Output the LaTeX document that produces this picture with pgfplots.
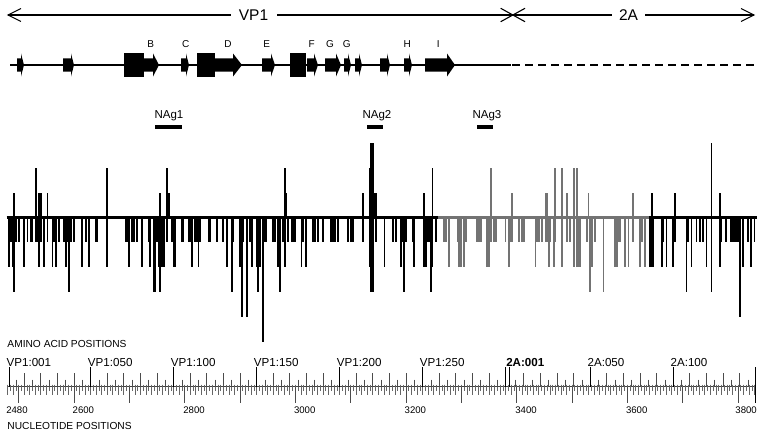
\documentclass[border=0pt]{standalone}
\usepackage{fontspec}
\setmainfont{Liberation Sans}
\usepackage{pgfplots}
\usepackage{pgfplotstable}
\pgfplotsset{compat=1.18}
\definecolor{gbar}{RGB}{115,115,115}
\newcommand\X[1]{\fpeval{((#1)-7.6)/1.6599}}
\newcommand\Y[1]{\fpeval{(217.5-(#1))/24.9}}
\newcommand\N[1]{\fpeval{((#1)-2480)/3}}
\newcommand\fs[1]{\fontsize{#1bp}{#1bp}\selectfont}
% secondary structure: arrow from px a to px b, head length h
\newcommand\SSarrow[3]{\fill (axis cs:\X{#1},\Y{58.5}) -- (axis cs:\X{#2-#3},\Y{58.5}) -- (axis cs:\X{#2-#3},\Y{53.5}) -- (axis cs:\X{#2},\Y{65}) -- (axis cs:\X{#2-#3},\Y{76.5}) -- (axis cs:\X{#2-#3},\Y{71.5}) -- (axis cs:\X{#1},\Y{71.5}) -- cycle;}
\newcommand\SSbox[2]{\fill (axis cs:\X{#1},\Y{53.3}) rectangle (axis cs:\X{#2},\Y{76.7});}
\newcommand\SSlab[2]{\node[anchor=base, inner sep=0] at (axis cs:\X{#2},\Y{47.5}) {\fs{10}#1};}
\newcommand\AAlab[2]{\node[anchor=base west, inner sep=0] at (axis cs:#2-1.7,\Y{366.3}) {\fs{11.6}#1};}
\newcommand\NTlab[1]{\node[anchor=base west, inner sep=0] at (axis cs:\N{#1}-0.9,\Y{413.5}) {\fs{9.6}#1};}

% amino acid index p (VP1:k = k, 2A:k = 301+k); value = count above (+) / below (-) the line
\pgfplotstableread{
p v
4 1
17 2
19 1
20 1
24 1
60 2
92 1
96 2
97 1
167 2
168 1
214 1
218 2
219 3
220 3
221 1
222 1
251 1
256 2
291 2
304 1
324 1
325 1
330 2
334 2
337 1
341 2
343 2
350 1
377 1
388 1
402 1
424 3
429 1
}\upbars

\pgfplotstableread{
p v
1 -2
2 -1
3 -2
4 -3
5 -1
7 -1
10 -2
12 -1
14 -1
15 -1
17 -1
18 -1
19 -2
20 -1
22 -2
24 -1
27 -2
28 -1
29 -2
31 -1
34 -1
35 -2
36 -1
37 -3
38 -1
40 -1
45 -2
47 -1
49 -2
53 -1
54 -1
60 -2
71 -1
72 -1
73 -2
75 -1
76 -1
78 -1
81 -2
85 -1
86 -2
88 -3
89 -3
90 -1
91 -2
92 -3
93 -2
94 -2
96 -1
99 -1
100 -2
101 -2
105 -1
106 -1
109 -1
110 -1
111 -2
113 -1
114 -1
115 -2
116 -1
121 -1
122 -1
126 -1
130 -1
132 -2
135 -3
136 -1
140 -2
141 -4
142 -1
144 -4
146 -1
147 -2
150 -2
151 -3
152 -2
154 -5
155 -1
156 -1
160 -1
161 -1
163 -2
164 -3
166 -1
167 -2
169 -1
171 -1
172 -1
173 -1
177 -2
178 -1
180 -2
184 -1
185 -1
187 -1
190 -1
195 -1
196 -1
197 -1
199 -1
205 -1
207 -1
208 -1
214 -1
218 -2
219 -3
220 -3
222 -1
227 -2
232 -1
234 -1
237 -2
238 -1
239 -3
240 -1
244 -1
245 -2
251 -2
252 -2
253 -1
254 -1
255 -3
256 -2
258 -1
263 -1
264 -1
266 -2
271 -1
272 -2
273 -2
275 -2
276 -1
283 -1
284 -1
285 -1
289 -2
290 -2
291 -1
293 -1
294 -1
300 -1
302 -2
303 -1
304 -1
308 -1
310 -1
311 -1
318 -2
319 -1
320 -1
322 -1
324 -1
325 -1
326 -2
327 -1
329 -2
330 -1
334 -2
337 -1
339 -1
341 -2
343 -2
344 -2
345 -2
349 -1
351 -3
352 -2
354 -1
359 -3
366 -2
367 -2
368 -1
369 -1
372 -2
374 -2
377 -1
381 -2
382 -1
384 -2
387 -2
388 -2
389 -2
394 -2
395 -1
397 -2
401 -2
402 -1
409 -3
410 -1
412 -2
415 -1
417 -1
419 -1
421 -2
424 -3
429 -2
430 -1
433 -1
436 -1
437 -1
438 -1
439 -1
440 -1
441 -4
443 -2
446 -1
448 -2
450 -1
}\dnbars

\begin{document}
\begin{tikzpicture}
\begin{axis}[scale only axis, width=765bp, height=436bp,
  xmin=-4.5786, xmax=456.29, ymin=-8.775, ymax=8.735,
  hide axis, clip=false]

% ---- bars ----
\addplot[ycomb, no marks, line width=1.8bp, black, restrict x to domain=-1:259.5] table[x=p,y=v]{\upbars};
\addplot[ycomb, no marks, line width=1.8bp, black, restrict x to domain=386.5:460] table[x=p,y=v]{\upbars};
\addplot[ycomb, no marks, line width=1.8bp, gbar, restrict x to domain=259.5:386.5] table[x=p,y=v]{\upbars};
\addplot[ycomb, no marks, line width=1.8bp, black, restrict x to domain=-1:259.5] table[x=p,y=v]{\dnbars};
\addplot[ycomb, no marks, line width=1.8bp, black, restrict x to domain=386.5:460] table[x=p,y=v]{\dnbars};
\addplot[ycomb, no marks, line width=1.8bp, gbar, restrict x to domain=259.5:386.5] table[x=p,y=v]{\dnbars};
% baseline
\draw[line width=2.2bp, black] (axis cs:-0.6,0) -- (axis cs:259.5,0);
\draw[line width=2.2bp, gbar] (axis cs:259.5,0) -- (axis cs:386.5,0);
\draw[line width=2.2bp, black] (axis cs:386.5,0) -- (axis cs:451.2,0);

% ---- top protein arrows ----
\draw[line width=1.1bp] (axis cs:\X{8},\Y{15}) -- (axis cs:\X{231},\Y{15});
\draw[line width=1.1bp] (axis cs:\X{277},\Y{15}) -- (axis cs:\X{512.7},\Y{15});
\draw[line width=1.1bp] (axis cs:\X{512.7},\Y{15}) -- (axis cs:\X{612},\Y{15});
\draw[line width=1.1bp] (axis cs:\X{645},\Y{15}) -- (axis cs:\X{754},\Y{15});
\draw[line width=1.1bp] (axis cs:\X{21},\Y{8.5}) -- (axis cs:\X{8},\Y{15}) -- (axis cs:\X{21},\Y{21.5});
\draw[line width=1.1bp] (axis cs:\X{741},\Y{8.5}) -- (axis cs:\X{754},\Y{15}) -- (axis cs:\X{741},\Y{21.5});
\draw[line width=1.1bp] (axis cs:\X{500.7},\Y{8.3}) -- (axis cs:\X{525},\Y{21.7});
\draw[line width=1.1bp] (axis cs:\X{500.7},\Y{21.7}) -- (axis cs:\X{525},\Y{8.3});
\node[anchor=base, inner sep=0] at (axis cs:\X{253.5},\Y{20.5}) {\fs{15.5}VP1};
\node[anchor=base, inner sep=0] at (axis cs:\X{628.5},\Y{20.5}) {\fs{15.5}2A};

% ---- secondary structure ----
\draw[line width=1.4bp] (axis cs:\X{10},\Y{65}) -- (axis cs:\X{510.7},\Y{65});
\draw[line width=1.4bp, dash pattern=on 8bp off 5bp] (axis cs:\X{512},\Y{65}) -- (axis cs:\X{755},\Y{65});
\SSarrow{17}{24}{3}
\SSarrow{63}{74}{3}
\SSbox{124}{144}
\SSarrow{144}{159}{6}
\SSarrow{181}{189}{3}
\SSbox{197}{215}
\SSarrow{215}{242}{9}
\SSarrow{262}{275}{4}
\SSbox{290}{306}
\SSarrow{307}{318}{4}
\SSarrow{325}{341}{5}
\SSarrow{344}{351}{3}
\SSarrow{355}{362}{3}
\SSarrow{380}{390}{3}
\SSarrow{404}{412}{3}
\SSarrow{425}{455}{8}
\SSlab{B}{150.7}
\SSlab{C}{185.7}
\SSlab{D}{228}
\SSlab{E}{266.7}
\SSlab{F}{311.7}
\SSlab{G}{330}
\SSlab{G}{346.7}
\SSlab{H}{407.3}
\SSlab{I}{438.3}

% ---- antigenic sites ----
\node[anchor=base, inner sep=0] at (axis cs:\X{169},\Y{118}) {\fs{11.5}NAg1};
\node[anchor=base, inner sep=0] at (axis cs:\X{377},\Y{118}) {\fs{11.5}NAg2};
\node[anchor=base, inner sep=0] at (axis cs:\X{487},\Y{118}) {\fs{11.5}NAg3};
\draw[line width=3.5bp] (axis cs:\X{155},\Y{127}) -- (axis cs:\X{182},\Y{127});
\draw[line width=3.5bp] (axis cs:\X{367},\Y{127}) -- (axis cs:\X{383},\Y{127});
\draw[line width=3.5bp] (axis cs:\X{477},\Y{127}) -- (axis cs:\X{493},\Y{127});

% ---- ruler ----
\node[anchor=base west, inner sep=0] at (axis cs:\X{7.3},\Y{347.3}) {\fs{10.2}AMINO ACID POSITIONS};
\node[anchor=base west, inner sep=0] at (axis cs:\X{7.3},\Y{429.3}) {\fs{10.2}NUCLEOTIDE POSITIONS};
\draw[line width=0.9bp, black!75] (axis cs:\X{7},\Y{386.5}) -- (axis cs:\X{755.7},\Y{386.5});
\pgfplotsinvokeforeach{2480,2485,...,3830}{\draw[line width=0.6bp, black!60] (axis cs:\N{#1},\Y{384.5}) -- (axis cs:\N{#1},\Y{391});}
\pgfplotsinvokeforeach{2480,2490,...,3830}{\draw[line width=0.6bp, black!60] (axis cs:\N{#1},\Y{384.5}) -- (axis cs:\N{#1},\Y{394.5});}
\pgfplotsinvokeforeach{2500,2600,...,3800}{\draw[line width=0.8bp, black!70] (axis cs:\N{#1},\Y{386.5}) -- (axis cs:\N{#1},\Y{403});}
\pgfplotsinvokeforeach{5,15,...,295}{\draw[line width=0.7bp, black!70] (axis cs:#1,\Y{379.5}) -- (axis cs:#1,\Y{386.5});}
\pgfplotsinvokeforeach{10,20,...,290}{\draw[line width=0.7bp, black!70] (axis cs:#1,\Y{373}) -- (axis cs:#1,\Y{386.5});}
\pgfplotsinvokeforeach{306,316,...,446}{\draw[line width=0.7bp, black!70] (axis cs:#1,\Y{379.5}) -- (axis cs:#1,\Y{386.5});}
\pgfplotsinvokeforeach{311,321,...,441}{\draw[line width=0.7bp, black!70] (axis cs:#1,\Y{373}) -- (axis cs:#1,\Y{386.5});}
\pgfplotsinvokeforeach{1,50,100,150,200,250,300,302,351,401}{\draw[line width=0.8bp, black] (axis cs:#1,\Y{367}) -- (axis cs:#1,\Y{386.5});}
\draw[line width=0.9bp] (axis cs:\X{755.7},\Y{367}) -- (axis cs:\X{755.7},\Y{403});
\AAlab{VP1:001}{1}
\AAlab{VP1:050}{50}
\AAlab{VP1:100}{100}
\AAlab{VP1:150}{150}
\AAlab{VP1:200}{200}
\AAlab{VP1:250}{250}
\AAlab{\bfseries 2A:001}{302}
\AAlab{2A:050}{351}
\AAlab{2A:100}{401}
\NTlab{2480}
\NTlab{2600}
\NTlab{2800}
\NTlab{3000}
\NTlab{3200}
\NTlab{3400}
\NTlab{3600}
\node[anchor=base east, inner sep=0] at (axis cs:\X{757},\Y{413.5}) {\fs{9.6}3800};
\end{axis}
\pgfresetboundingbox
\path[use as bounding box] (current axis.south west) rectangle (current axis.north east);
\end{tikzpicture}
\end{document}
